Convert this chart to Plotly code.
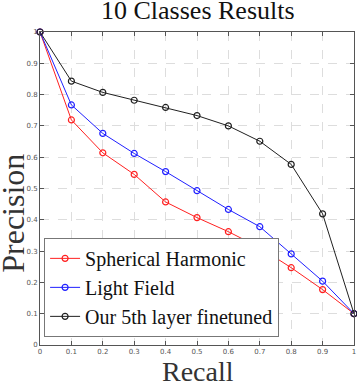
import plotly.graph_objects as go

recall = [0, 0.1, 0.2, 0.3, 0.4, 0.5, 0.6, 0.7, 0.8, 0.9, 1.0]
spherical = [1.0, 0.719, 0.614, 0.545, 0.457, 0.407, 0.362, 0.311, 0.247, 0.177, 0.1]
light_field = [1.0, 0.767, 0.676, 0.612, 0.554, 0.493, 0.433, 0.378, 0.291, 0.204, 0.1]
ours = [1.0, 0.843, 0.807, 0.782, 0.759, 0.733, 0.700, 0.651, 0.577, 0.419, 0.1]

tick_vals = [0, 0.1, 0.2, 0.3, 0.4, 0.5, 0.6, 0.7, 0.8, 0.9, 1]
tick_text = ['0', '0.1', '0.2', '0.3', '0.4', '0.5', '0.6', '0.7', '0.8', '0.9', '1']

series = [
    ('Spherical Harmonic', spherical, '#ff2020'),
    ('Light Field', light_field, '#2020ff'),
    ('Our 5th layer finetuned', ours, '#202020'),
]

fig = go.Figure()
for name, vals, color in series:
    fig.add_trace(go.Scatter(
        x=recall, y=vals, mode='lines+markers', name=name, cliponaxis=False,
        line=dict(color=color, width=1),
        marker=dict(symbol='circle-open', size=6, color=color, line=dict(width=1.2))
    ))

axis_common = dict(
    range=[0, 1], tickvals=tick_vals, ticktext=tick_text, automargin=False,
    showgrid=True, gridcolor='#dddddd', griddash='dash', gridwidth=1,
    showline=True, linecolor='#555555', linewidth=1, mirror='ticks',
    ticks='inside', ticklen=4, tickcolor='#555555',
    tickfont=dict(family='DejaVu Sans', size=7, color='#555555'),
    zeroline=False,
)

serif = 'Liberation Serif'

fig.update_layout(
    width=357, height=383,
    margin=dict(l=40, r=3, t=32, b=38),
    paper_bgcolor='white', plot_bgcolor='white',
    xaxis=axis_common,
    yaxis=axis_common,
    legend=dict(x=0.013, y=0.026, xanchor='left', yanchor='bottom',
                bgcolor='white', bordercolor='#777777', borderwidth=1,
                font=dict(family=serif, size=20, color='#111111'),
                tracegroupgap=0, itemwidth=30),
    showlegend=True,
    annotations=[
        dict(text='10 Classes Results', xref='paper', yref='paper', x=0.5016, y=1.0696,
             xanchor='center', yanchor='middle', showarrow=False, height=20, borderpad=0,
             font=dict(family=serif, size=26, color='#111111')),
        dict(text='Recall', xref='paper', yref='paper', x=0.5016, y=-0.0815,
             xanchor='center', yanchor='middle', showarrow=False, height=22, borderpad=0,
             font=dict(family=serif, size=28, color='#333333')),
        dict(text='Precision', xref='paper', yref='paper', x=-0.0885, y=0.42,
             xanchor='center', yanchor='middle', showarrow=False, textangle=-90,
             height=24, borderpad=0,
             font=dict(family=serif, size=32, color='#333333')),
    ],
)

# page body margin would shift the figure inside the window
fig.write_html("out.html", config={'displayModeBar': False},
               post_script="document.body.style.margin='0';")
